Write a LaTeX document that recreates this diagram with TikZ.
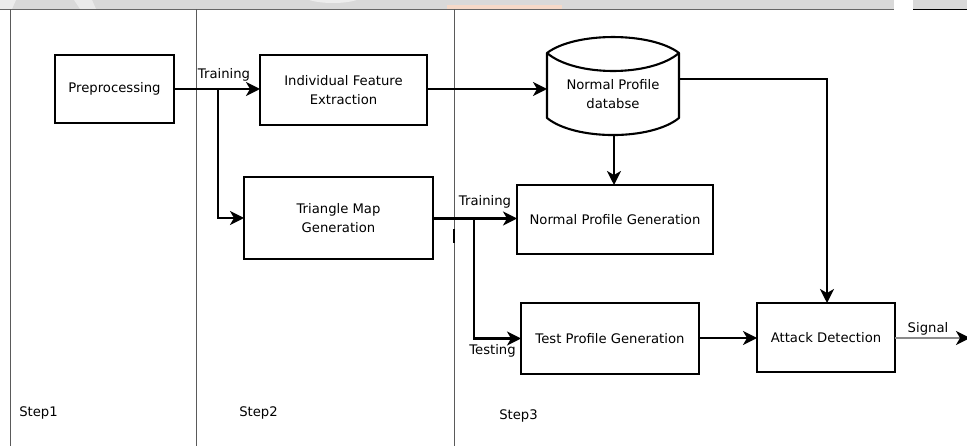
\documentclass[tikz,border=0pt]{standalone}
\usepackage{fontspec}
\setmainfont{DejaVu Sans}
\usetikzlibrary{arrows.meta}
\definecolor{bandgray}{HTML}{D9D9D9}
\definecolor{lanegray}{HTML}{5A5A5A}
\definecolor{sigline}{HTML}{8A8A8A}
\definecolor{faintorange}{HTML}{F6D9C8}
\begin{document}
\begin{tikzpicture}[x=1pt,y=-1pt,
  every node/.style={font=\fontsize{13.2}{19}\selectfont, text=black},
  box/.style={draw=black, line width=2.1pt, outer sep=0pt, inner sep=2pt, align=center},
  lbl/.style={inner sep=0pt, outer sep=0pt},
  tip/.style={-{Stealth[length=14pt,width=14pt,inset=4pt]}},
  arr/.style={line width=2.1pt, tip},
  lane/.style={draw=lanegray, line width=1pt}]

\useasboundingbox (0,0) rectangle (967,446);
\fill[white] (0,0) rectangle (967,446);

% header band
\begin{scope}
  \clip (0,0) rectangle (894,9);
  \fill[bandgray] (0,0) rectangle (894,9);
  \fill[white, opacity=0.55] (333,-6) ellipse (32 and 9);
  \fill[white, opacity=0.5] (0,0) -- (16,0) -- (12,9) -- (0,9) -- cycle;
  \fill[white, opacity=0.45] (74,0) -- (92,0) -- (96,9) -- (80,9) -- cycle;
  \fill[faintorange] (447,5) rectangle (562,9);
\end{scope}
\fill[bandgray] (913,0) rectangle (967,9);
\draw[black!60, line width=0.8pt] (0,9.5) -- (894,9.5);
\draw[black, line width=1pt] (913,10) -- (967,10);

% lane separators
\draw[lane] (10.5,9.5) -- (10.5,446);
\draw[lane] (196.5,9.5) -- (196.5,446);
\draw[lane] (454,9.5) -- (454,446);
\draw[black, line width=2pt] (454,229) -- (454,243);

% boxes
\node[box, minimum width=119pt, minimum height=68pt] (pre) at (114.5,89) {Preprocessing};
\node[box, minimum width=167pt, minimum height=70pt] (ife) at (343.5,90) {Individual Feature\\Extraction};
\node[box, minimum width=189pt, minimum height=82pt] (tmg) at (338.5,218) {Triangle Map\\Generation};
\node[box, minimum width=196pt, minimum height=69pt] (npg) at (615,219.5) {Normal Profile Generation};
\node[box, minimum width=178pt, minimum height=71pt] (tpg) at (610,338.5) {Test Profile Generation};
\node[box, minimum width=138pt, minimum height=69pt] (ad) at (826,337.5) {Attack Detection};

% database cylinder
\draw[line width=2.1pt, line join=round]
  (547,53) .. controls (575,31.7) and (651,31.7) .. (679,53)
  -- (679,118) .. controls (651,140.7) and (575,140.7) .. (547,118) -- cycle;
\draw[line width=2.1pt]
  (547,53) .. controls (575,77) and (651,77) .. (679,53);
\node[lbl, minimum width=132pt, minimum height=82pt, align=center] (db) at (613,94)
  {Normal Profile\\databse};

% connectors
\coordinate (b1) at (218,89);
\coordinate (b2) at (474,218.5);
\coordinate (dbtap) at (679,79);
\coordinate (sigend) at (970,338);

\draw[arr] (pre.east |- b1) -- (b1 -| ife.west);
\draw[arr] (b1) |- (tmg.west);
\draw[arr] (ife.east |- 0,89) -- (db.west |- 0,89);
\draw[arr] (db.south -| 614,0) -- (npg.north -| 614,0);
\draw[arr] (tmg.east |- b2) -- (b2 -| npg.west);
\draw[arr] (b2) |- (tpg.west);
\draw[arr] (tpg.east |- 0,338) -- (ad.west |- 0,338);
\draw[arr] (dbtap) -| (ad.north -| 827,0);
\draw[line width=2.1pt, draw=sigline, -{Stealth[length=14pt,width=14pt,inset=4pt,color=black]}]
  (ad.east |- sigend) -- (sigend);

% labels
\node[lbl] (ltrain1) at (224,75) {Training};
\node[lbl] (ltrain2) at (485,201.5) {Training};
\node[lbl] (ltest) at (492.5,351) {Testing};
\node[lbl] (lsignal) at (928,329) {Signal};
\node[lbl] (step1) at (38.5,412.5) {Step1};
\node[lbl] (step2) at (258.5,413) {Step2};
\node[lbl] (step3) at (518.5,415.5) {Step3};
\end{tikzpicture}
\end{document}
